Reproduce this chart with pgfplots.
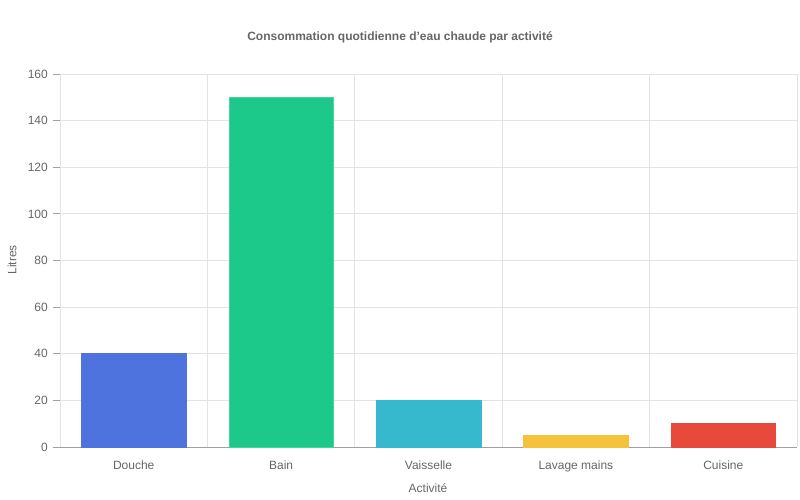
\documentclass[border=0pt]{standalone}
\usepackage{fontspec}
\setmainfont{Liberation Sans}
\usepackage{pgfplots}
\pgfplotsset{compat=1.18}
\definecolor{txt}{HTML}{666666}
\definecolor{gridc}{HTML}{E3E3E3}
\definecolor{axisc}{HTML}{A0A0A0}
\definecolor{cblue}{HTML}{4E73DF}
\definecolor{cgreen}{HTML}{1CC88A}
\definecolor{ccyan}{HTML}{36B9CC}
\definecolor{cyellow}{HTML}{F6C23E}
\definecolor{cred}{HTML}{E74A3B}
\begin{document}
\begin{tikzpicture}
\fontsize{12}{14}\selectfont
\path[use as bounding box] (-60pt,-53pt) rectangle (740pt,447pt);
\begin{axis}[
  at={(0pt,0pt)}, anchor=south west,
  scale only axis, width=737pt, height=373pt,
  xmin=-0.5, xmax=4.5, ymin=0, ymax=160,
  axis x line*=bottom, axis y line*=left,
  axis line style={draw=axisc, line width=0.8pt},
  tick align=outside,
  ytick={0,20,...,160},
  ymajorgrids, grid style={draw=gridc, line width=0.8pt},
  xtick={0,1,2,3,4},
  xticklabels={Douche,Bain,Vaisselle,Lavage mains,Cuisine},
  x tick style={draw=none},
  y tick style={draw=axisc, line width=0.8pt},
  major tick length=7pt,
  extra x ticks={-0.5,0.5,1.5,2.5,3.5,4.5},
  extra x tick labels={},
  extra x tick style={grid=major, major tick length=10pt,
    tick style={draw=gridc, line width=0.8pt}},
  ticklabel style={font=\fontsize{12}{14}\selectfont, text=txt},
  /pgf/number format/assume math mode=true,
  yticklabel style={inner sep=0pt, xshift=-5pt},
  xticklabel style={inner sep=0pt, yshift=-7pt},
  ybar, bar width=0.71, bar shift=0pt,
  clip=false,
]
\addplot[fill=cblue, draw=cblue, line width=0.5pt] coordinates {(0,40)};
\addplot[fill=cgreen, draw=cgreen!80!white, line width=0.5pt] coordinates {(1,150)};
\addplot[fill=ccyan, draw=ccyan, line width=0.5pt] coordinates {(2,20)};
\addplot[fill=cyellow, draw=cyellow, line width=0.5pt] coordinates {(3,5)};
\addplot[fill=cred, draw=cred, line width=0.5pt] coordinates {(4,10)};
\end{axis}
\node[text=txt, font=\fontsize{12}{14}\selectfont\bfseries] at (340pt,410pt) {Consommation quotidienne d'eau chaude par activité};
\node[text=txt, rotate=90] at (-48pt,187pt) {Litres};
\node[text=txt] at (368pt,-41pt) {Activité};
\end{tikzpicture}
\end{document}
